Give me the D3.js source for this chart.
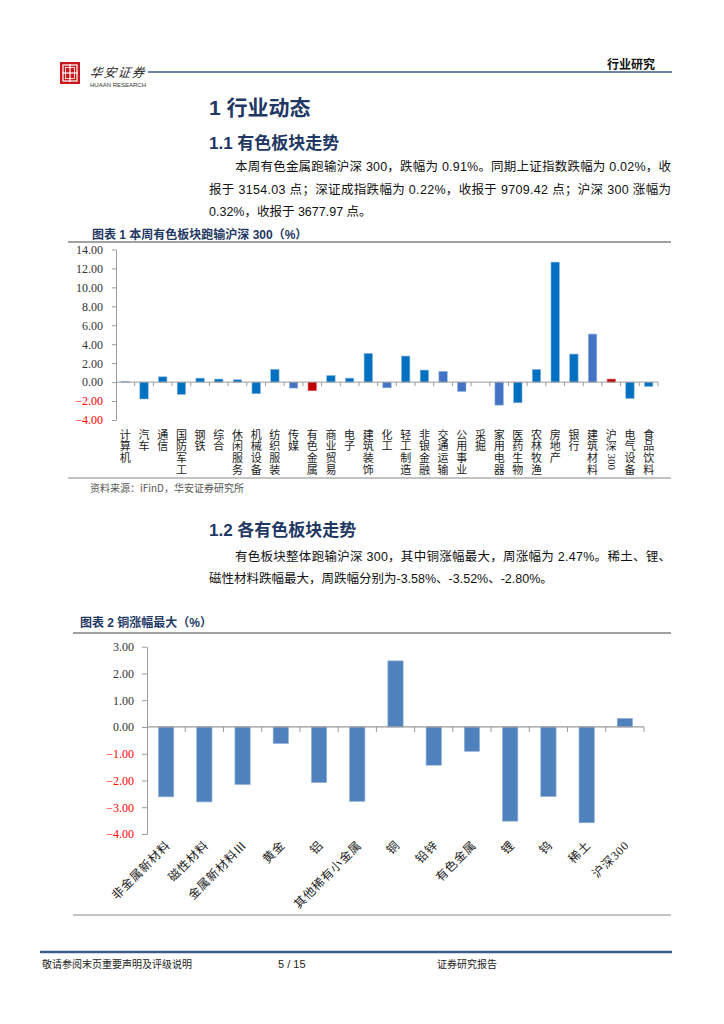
<!DOCTYPE html>
<html><head><meta charset="utf-8">
<script src="https://cdn.jsdelivr.net/npm/d3@7"></script>
<style>body{margin:0;background:#fff} svg{display:block}</style>
</head><body><svg id="page" width="724" height="1024"></svg>
<script>
// ---------- data ----------
const sectorNames = ["计算机","汽车","通信","国防军工","钢铁","综合","休闲服务","机械设备","纺织服装","传媒","有色金属","商业贸易","电子","建筑装饰","化工","轻工制造","非银金融","交通运输","公用事业","采掘","家用电器","医药生物","农林牧渔","房地产","银行","建筑材料","沪深300","电气设备","食品饮料"];
const sectorValues = [0.05,-1.78,0.56,-1.30,0.42,0.32,0.25,-1.23,1.34,-0.63,-0.91,0.70,0.42,3.03,-0.60,2.75,1.27,1.13,-0.99,0.00,-2.43,-2.18,1.34,12.67,2.96,5.07,0.32,-1.73,-0.46];
const yTicks1 = [14,12,10,8,6,4,2,0,-2,-4];

const metalNames = ["非金属新材料","磁性材料","金属新材料Ⅲ","黄金","铝","其他稀有小金属","铜","铅锌","有色金属","锂","钨","稀土","沪深300"];
const metalValues = [-2.61,-2.80,-2.15,-0.62,-2.08,-2.78,2.47,-1.43,-0.91,-3.52,-2.60,-3.58,0.32];
const yTicks2 = [3,2,1,0,-1,-2,-3,-4];

// ---------- styles ----------
const NAVY = "#1F3864";
const CJK = "'Noto Sans CJK SC','Noto Sans CJK JP',sans-serif";
const SANS = "'Liberation Sans',Arial,'Noto Sans CJK SC',sans-serif";
const SERIF = "'Liberation Serif','Times New Roman','Noto Sans CJK SC',serif";
const redSet = new Set(["有色金属","沪深300"]);
const lightSet = new Set(["传媒","化工","交通运输","公用事业","家用电器","建筑材料"]);

const svg = d3.select("#page");

// ---------- header ----------
const logo = svg.append("g");
logo.append("rect").attr("x",60).attr("y",62).attr("width",20).attr("height",22).attr("fill","#C8161D");
logo.append("rect").attr("x",63).attr("y",65).attr("width",14).attr("height",16).attr("fill","none").attr("stroke","#fff").attr("stroke-width",1.2);
logo.append("line").attr("x1",70).attr("x2",70).attr("y1",64).attr("y2",82).attr("stroke","#fff").attr("stroke-width",1.2);
logo.append("line").attr("x1",62).attr("x2",78).attr("y1",73).attr("y2",73).attr("stroke","#fff").attr("stroke-width",1.2);
logo.append("rect").attr("x",65.5).attr("y",67.5).attr("width",9).attr("height",11).attr("fill","none").attr("stroke","#fff").attr("stroke-width",0.8);
svg.append("text").attr("x",100).attr("y",77).attr("font-family",CJK).attr("font-size",12.5).attr("font-style","italic")
  .attr("fill","#222").attr("transform","skewX(-8)").attr("letter-spacing",1.5).text("华安证券");
svg.append("text").attr("x",90).attr("y",87).attr("font-family",SANS).attr("font-size",6).attr("fill","#333").text("HUAAN RESEARCH");
svg.append("line").attr("x1",148).attr("x2",672).attr("y1",72).attr("y2",72).attr("stroke","#3E5C8A").attr("stroke-width",1.5);
svg.append("text").attr("x",655).attr("y",69).attr("text-anchor","end").attr("font-family",CJK).attr("font-size",12).attr("font-weight","bold").attr("fill","#111").text("行业研究");

// ---------- headings & paragraphs ----------
function heading(txt,x,y,size){
  svg.append("text").attr("x",x).attr("y",y).attr("font-family",SANS).attr("font-size",size).attr("font-weight","bold").attr("fill",NAVY).text(txt);
}
heading("1 行业动态",209,115,21);
heading("1.1 有色板块走势",209,149,17);
heading("1.2 各有色板块走势",209,536,17);

function para(txt,x,y,width){
  const t = svg.append("text").attr("x",x).attr("y",y).attr("font-family",SANS).attr("font-size",12.5).attr("fill","#111").text(txt);
  if(width) t.attr("textLength",width).attr("lengthAdjust","spacing");
}
para("本周有色金属跑输沪深 300，跌幅为 0.91%。同期上证指数跌幅为 0.02%，收",235,171,436);
para("报于 3154.03 点；深证成指跌幅为 0.22%，收报于 9709.42 点；沪深 300 涨幅为",209,194,462);
para("0.32%，收报于 3677.97 点。",209,216);
para("有色板块整体跑输沪深 300，其中铜涨幅最大，周涨幅为 2.47%。稀土、锂、",235,561,436);
para("磁性材料跌幅最大，周跌幅分别为-3.58%、-3.52%、-2.80%。",209,583);

// ---------- chart titles ----------
function chartTitle(txt,x,y,lineY,x1){
  svg.append("text").attr("x",x).attr("y",y).attr("font-family",SANS).attr("font-size",12).attr("font-weight","bold").attr("fill",NAVY).text(txt);
  svg.append("line").attr("x1",x1).attr("x2",671).attr("y1",lineY).attr("y2",lineY).attr("stroke","#444").attr("stroke-width",1);
}
chartTitle("图表 1 本周有色板块跑输沪深 300（%）",92,239,242,68);
chartTitle("图表 2 铜涨幅最大（%）",80,627,633,73);

// ---------- chart 1 ----------
const x1 = d3.scaleBand().domain(sectorNames).range([116,658]).paddingInner(0.55).paddingOuter(0.275);
const y1 = d3.scaleLinear().domain([-4,14]).range([420,249.5]);
const g1 = svg.append("g");

const ax1 = g1.append("g").attr("transform","translate(116,0)")
  .call(d3.axisLeft(y1).tickValues(yTicks1).tickFormat(d3.format(".2f")).tickSize(4).tickPadding(9).tickSizeOuter(0));
ax1.select(".domain").attr("stroke","#9A9A9A");
ax1.selectAll(".tick line").attr("stroke","#9A9A9A");
ax1.selectAll(".tick text").attr("font-family",SERIF).attr("font-size",12).attr("fill",d=>d<0?"#FF0000":"#333");

g1.selectAll("rect.bar").data(sectorNames).join("rect").attr("class","bar")
  .attr("x",d=>x1(d)).attr("width",x1.bandwidth())
  .attr("y",(d,i)=>y1(Math.max(0,sectorValues[i])))
  .attr("height",(d,i)=>Math.abs(y1(sectorValues[i])-y1(0)))
  .attr("fill",d=>redSet.has(d)?"#C00000":lightSet.has(d)?"#4472C4":"#0070C0")
  .attr("stroke",d=>redSet.has(d)?"#E06060":"#8DB4E2").attr("stroke-width",0.6);

g1.append("line").attr("x1",116).attr("x2",658).attr("y1",y1(0)).attr("y2",y1(0)).attr("stroke","#9A9A9A");
const bounds1 = sectorNames.map((d,i)=>116 + i*x1.step()).concat([658]);
g1.selectAll("line.xt").data(bounds1.slice(1)).join("line").attr("class","xt")
  .attr("x1",d=>d).attr("x2",d=>d).attr("y1",y1(0)).attr("y2",y1(0)+4).attr("stroke","#9A9A9A");

// vertical category labels, one character per text
const labFS = 11, labStep = 11.8;
sectorNames.forEach(name=>{
  const cx = x1(name)+x1.bandwidth()/2;
  const tokens = name.match(/[0-9A-Za-z]+|./g);
  let y = 429;
  tokens.forEach(tok=>{
    if(/^[0-9A-Za-z]+$/.test(tok)){
      const w = tok.length*labFS*0.5;
      g1.append("text").attr("transform",`translate(${cx-3.5},${y+1}) rotate(90)`)
        .attr("font-family",SERIF).attr("font-size",labFS).attr("fill","#222").text(tok);
      y += w+1;
    } else {
      g1.append("text").attr("x",cx).attr("y",y+labFS*0.88).attr("text-anchor","middle")
        .attr("font-family",SERIF).attr("font-size",labFS).attr("fill","#222").text(tok);
      y += labStep;
    }
  });
});
svg.append("line").attr("x1",68).attr("x2",671).attr("y1",478).attr("y2",478).attr("stroke","#888").attr("stroke-width",1);
svg.append("text").attr("x",90).attr("y",492).attr("font-family",CJK).attr("font-size",10).attr("fill","#555").text("资料来源：iFinD，华安证券研究所");

// ---------- chart 2 ----------
const x2 = d3.scaleBand().domain(metalNames).range([147,644]).paddingInner(0.6).paddingOuter(0.3);
const y2 = d3.scaleLinear().domain([-4,3]).range([834,646.7]);
const g2 = svg.append("g");
const ax2 = g2.append("g").attr("transform","translate(147,0)")
  .call(d3.axisLeft(y2).tickValues(yTicks2).tickFormat(d3.format(".2f")).tickSize(5).tickPadding(8).tickSizeOuter(0));
ax2.select(".domain").attr("stroke","#9A9A9A");
ax2.selectAll(".tick line").attr("stroke","#9A9A9A");
ax2.selectAll(".tick text").attr("font-family",SERIF).attr("font-size",12).attr("fill",d=>d<0?"#FF0000":"#333");

g2.selectAll("rect.bar").data(metalNames).join("rect").attr("class","bar")
  .attr("x",d=>x2(d)).attr("width",x2.bandwidth())
  .attr("y",(d,i)=>y2(Math.max(0,metalValues[i])))
  .attr("height",(d,i)=>Math.abs(y2(metalValues[i])-y2(0)))
  .attr("fill","#4F81BD").attr("stroke","#95B3D7").attr("stroke-width",0.7);

g2.append("line").attr("x1",147).attr("x2",644).attr("y1",y2(0)).attr("y2",y2(0)).attr("stroke","#9A9A9A").attr("stroke-width",1.2);
const bounds2 = metalNames.map((d,i)=>147 + i*x2.step()).concat([644]);
g2.selectAll("line.xt").data(bounds2.slice(1)).join("line").attr("class","xt")
  .attr("x1",d=>d).attr("x2",d=>d).attr("y1",y2(0)).attr("y2",y2(0)+5).attr("stroke","#9A9A9A");

g2.selectAll("text.rlab").data(metalNames).join("text").attr("class","rlab")
  .attr("transform",d=>`translate(${x2(d)+x2.bandwidth()/2+5},846) rotate(-45)`)
  .attr("text-anchor","end").attr("font-family",SERIF).attr("font-size",12).attr("fill","#222")
  .attr("letter-spacing",0.8).text(d=>d);
svg.append("line").attr("x1",73).attr("x2",671).attr("y1",915).attr("y2",915).attr("stroke","#888").attr("stroke-width",1);

// ---------- footer ----------
svg.append("line").attr("x1",40).attr("x2",672).attr("y1",952).attr("y2",952).attr("stroke","#3E5C8A").attr("stroke-width",2.5);
svg.append("text").attr("x",42).attr("y",968).attr("font-family",CJK).attr("font-size",10).attr("fill","#222").text("敬请参阅末页重要声明及评级说明");
svg.append("text").attr("x",278).attr("y",968).attr("font-family",SANS).attr("font-size",11).attr("fill","#222").text("5 / 15");
svg.append("text").attr("x",437).attr("y",968).attr("font-family",CJK).attr("font-size",10).attr("fill","#222").text("证券研究报告");
</script>
</body></html>
